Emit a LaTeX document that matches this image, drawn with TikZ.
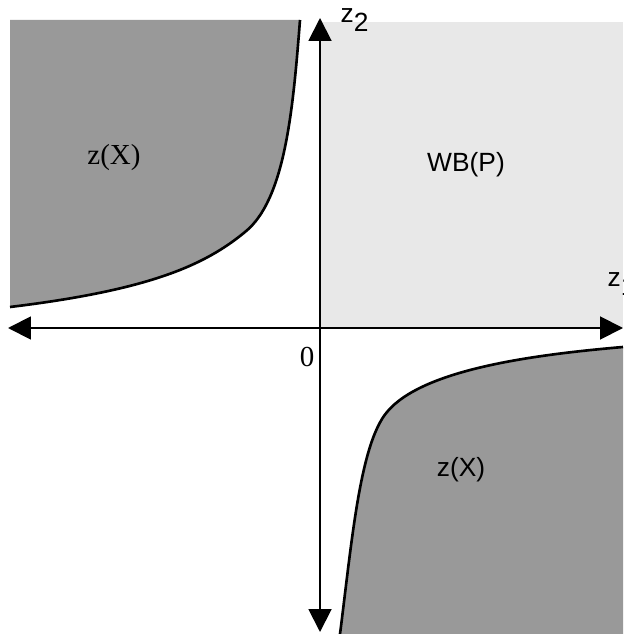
\documentclass[tikz,border=0pt]{standalone}
\usepackage{fontspec}
\setmainfont{Liberation Serif}
\setsansfont{Liberation Sans}
\usetikzlibrary{arrows.meta}
\definecolor{setgray}{HTML}{999999}
\definecolor{wbgray}{HTML}{E8E8E8}
\tikzstyle{region}=[fill=setgray]
\tikzstyle{bound}=[draw,line width=1.5pt]
\tikzstyle{axis}=[draw,line width=1.1pt,{Triangle[length=13pt,width=13pt]}-{Triangle[length=13pt,width=13pt]}]
\tikzstyle{lbl}=[font=\fontsize{16.5}{18}\selectfont,inner sep=0pt]
\tikzstyle{slbl}=[font=\sffamily\fontsize{15}{17}\selectfont,inner sep=0pt]

\begin{document}
\begin{tikzpicture}[x=0.02cm,y=-0.02cm]
    \useasboundingbox (0,0) rectangle (623,634);
    % weakly efficient part
    \fill[wbgray] (320,22) rectangle (623,328);
    % the two parts of z(X)
    \fill[region] (10,20) -- (300,20) .. controls (293,110) and (285,200) .. (245,232)
        .. controls (205,265) and (150,290) .. (10,307) -- cycle;
    \draw[bound] (300,20) .. controls (293,110) and (285,200) .. (245,232)
        .. controls (205,265) and (150,290) .. (10,307);
    \fill[region] (623,347) .. controls (530,355) and (422,370) .. (387,412)
        .. controls (360,444) and (352,540) .. (340,634) -- (623,634) -- cycle;
    \draw[bound] (623,347) .. controls (530,355) and (422,370) .. (387,412)
        .. controls (360,444) and (352,540) .. (340,634);
    % axes
    \coordinate (O) at (320,328);
    \coordinate (Xl) at (8,328);
    \coordinate (Xr) at (623,328);
    \coordinate (Yt) at (320,18);
    \coordinate (Yb) at (320,632);
    \draw[axis] (Xl) -- (Xr);
    \draw[axis] (Yb) -- (Yt);
    \node[slbl] (z2) at (355,20) {z$_{\textsf{2}}$};
    \node[slbl] (z1) at (622,284) {z$_{\textsf{1}}$};
    \node[lbl] (zero) at (307,357) {0};
    \node[lbl] (zX1) at (114,158) {z(X)};
    \node[slbl] (wb) at (466,165) {WB(P)};
    \node[slbl] (zX2) at (461,470) {z(X)};
\end{tikzpicture}
\end{document}
